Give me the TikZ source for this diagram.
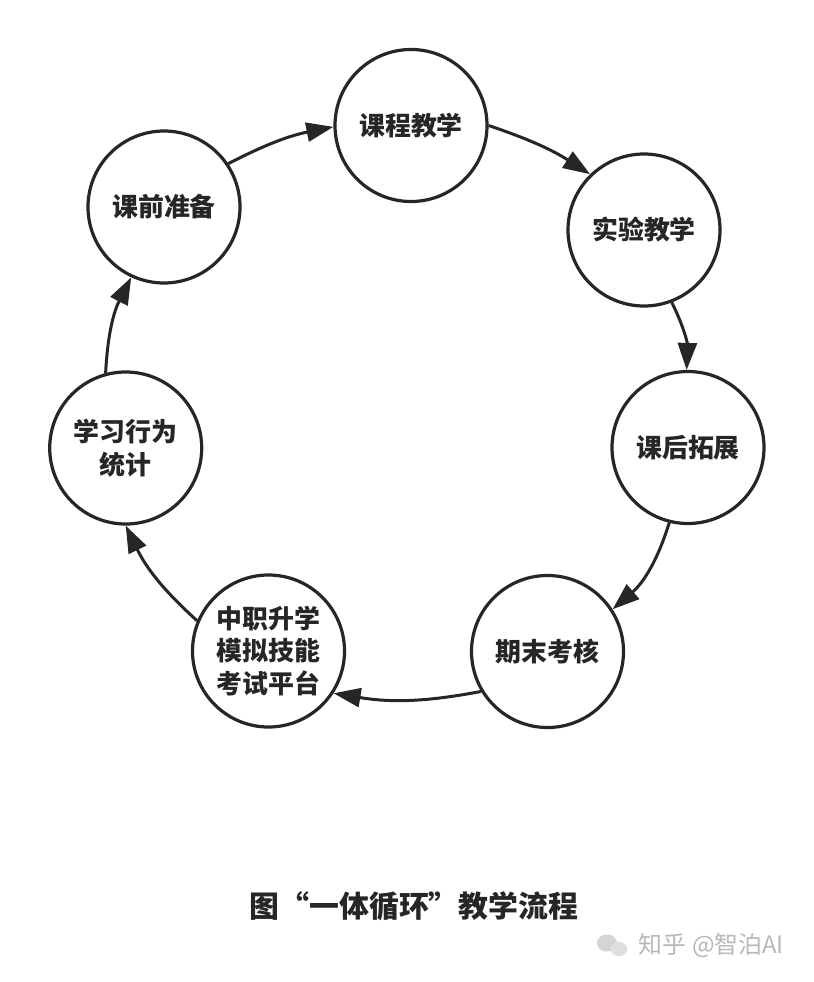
\documentclass[tikz,border=0pt]{standalone}
\usepackage{fontspec}
\setmainfont{Noto Sans CJK SC}
\usetikzlibrary{arrows.meta}
\definecolor{ink}{HTML}{262626}
\definecolor{wm}{HTML}{B8B8B8}
\begin{document}
\begin{tikzpicture}[x=1bp,y=-1bp,
  stage/.style={circle,draw=ink,line width=3.2bp,minimum size=152bp,inner sep=0pt,
    text=ink,font=\fontsize{26}{32.5}\selectfont\bfseries,align=center},
  flow/.style={draw=ink,line width=3bp,-{Triangle[length=27bp,width=19bp]}}]
\useasboundingbox[fill=white] (0,0) rectangle (814,982);
\node[stage] (kc) at (411,125.5) {课程教学};
\node[stage] (sy) at (644,230) {实验教学};
\node[stage] (kh) at (688,447.5) {课后拓展};
\node[stage] (qm) at (547.5,651.5) {期末考核};
\node[stage] (zz) at (268.5,651) {中职升学\\模拟技能\\考试平台};
\node[stage] (xx) at (125.7,448) {学习行为\\统计};
\node[stage] (kq) at (164,207) {课前准备};
\draw[flow] (kq.34) to[bend left=8] (kc.181);
\draw[flow] (kc.0) to[bend left=7] (sy.134.5);
\draw[flow] (sy.-69) to[bend left=14] (kh.91);
\draw[flow] (kh.-104) to[bend left=16] (qm.33);
\draw[flow] (qm.-149) to[bend left=10] (zz.-33);
\draw[flow] (zz.157) to[bend left=11] (xx.-90.5);
\draw[flow] (xx.105.5) to[bend left=12] (kq.-115);
\node[text=ink,font=\fontsize{30}{34}\selectfont\bfseries] (cap) at (414,906.5) {图“一体循环”教学流程};
\fill[wm!60] (607,943) ellipse (10bp and 8.5bp);
\fill[wm!45] (619,949) ellipse (8.5bp and 7bp);
\node[text=wm,font=\fontsize{24}{26}\selectfont,anchor=west,inner sep=0pt] (wmk) at (638,945) {知乎\hspace{6bp}@智泊AI};
\end{tikzpicture}
\end{document}
